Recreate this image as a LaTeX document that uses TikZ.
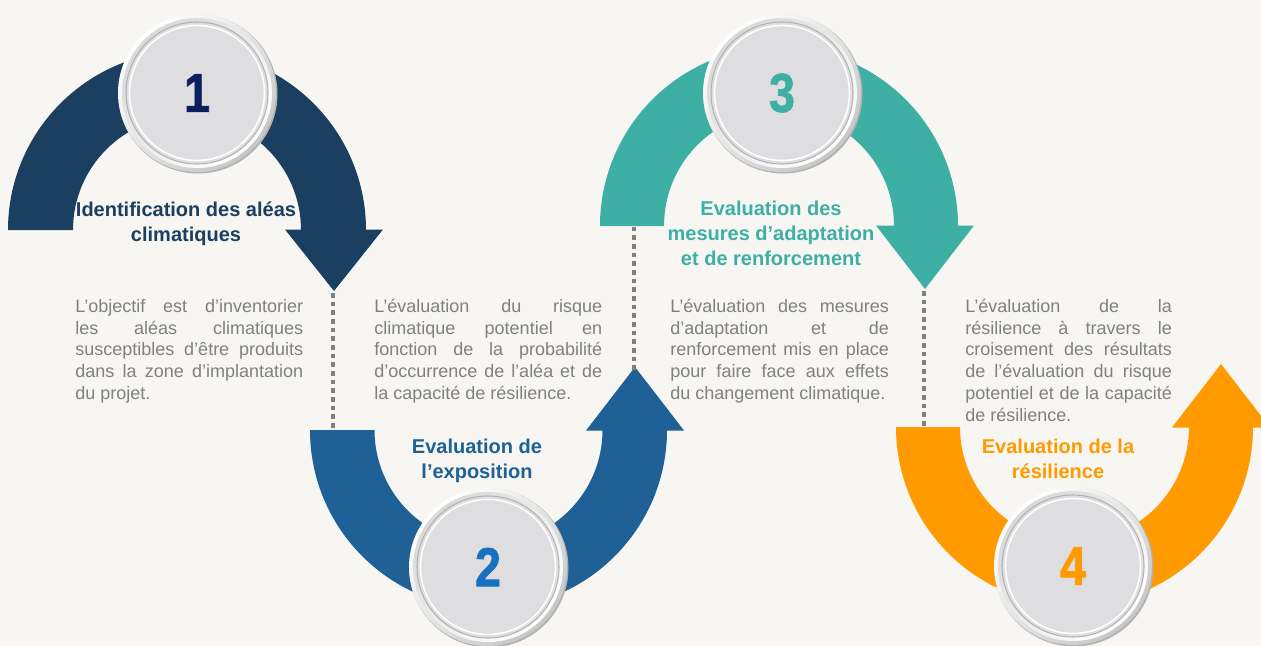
\documentclass[tikz,border=0pt]{standalone}
\usepackage{fontspec}
\setmainfont{Liberation Sans}
\newfontfamily\numfont{Liberation Sans}[UprightFont={* Bold}, FakeBold=1.6]
\usetikzlibrary{positioning,calc}
\definecolor{colbg}{RGB}{247,246,242}
\definecolor{cola}{RGB}{27,63,96}
\definecolor{colb}{RGB}{31,96,150}
\definecolor{colc}{RGB}{61,175,165}
\definecolor{cold}{RGB}{255,154,0}
\definecolor{coln}{RGB}{10,31,94}
\definecolor{colm}{RGB}{26,112,192}
\definecolor{colg}{RGB}{128,128,128}
\definecolor{colcoin}{RGB}{222,221,224}
\tolerance=10000
\hyphenpenalty=10000

\begin{document}
\begin{tikzpicture}[x=0.75pt, y=0.75pt,
    desc/.style={anchor=north west, inner sep=0pt, align=justify, text=colg,
      font=\fontsize{13.5pt}{16.3pt}\selectfont},
    titl/.style={anchor=base, inner sep=0pt, align=center,
      font=\fontsize{15pt}{18.5pt}\selectfont\bfseries},
    dots/.style={colg, line width=3.4pt, dash pattern=on 3.4pt off 3.1pt},
    num/.style={inner sep=0pt, font=\fontsize{41pt}{41pt}\numfont}]
    \useasboundingbox (0,0) rectangle (1261,-646);
    \clip (0,0) rectangle (1261,-646);
    \fill[colbg] (0,0) rectangle (1261,-646);

    \fill[cola] (8,-230) arc[start angle=180, end angle=0, radius=179] -- (301,-230) arc[start angle=0, end angle=180, radius=114] -- cycle;
    \fill[cola] (285,-229.5) -- (383,-229.5) -- (334,-291) -- cycle;
    \fill[colb] (310,-430) arc[start angle=180, end angle=360, radius=178.5] -- (602.5,-430) arc[start angle=360, end angle=180, radius=114] -- cycle;
    \fill[colb] (586,-430.5) -- (684,-430.5) -- (635,-367) -- cycle;
    \fill[colc] (600,-226) arc[start angle=180, end angle=0, radius=179] -- (894,-226) arc[start angle=0, end angle=180, radius=115] -- cycle;
    \fill[colc] (876,-225.5) -- (974,-225.5) -- (925,-289) -- cycle;
    \fill[cold] (896,-427) arc[start angle=180, end angle=360, radius=178.5] -- (1189,-427) arc[start angle=360, end angle=180, radius=114.5] -- cycle;
    \fill[cold] (1172,-427.5) -- (1270,-427.5) -- (1221,-364) -- cycle;

    \coordinate (tip1) at (333,-293);
    \coordinate (foot2) at (333,-430);
    \coordinate (tip2) at (634,-370);
    \coordinate (foot3) at (634,-226);
    \coordinate (tip3) at (924,-291);
    \coordinate (foot4) at (924,-427);
    \draw[dots] (tip1) -- (foot2);
    \draw[dots] (tip2) -- (foot3);
    \draw[dots] (tip3) -- (foot4);

    \foreach \n/\x/\y/\c in {1/197/-93/coln, 2/488/-567/colm, 3/782/-93/colc, 4/1073/-566/cold} {
      \fill[black!30] (\x+1,\y-1) circle (79.5);
      \shade[top color=white, bottom color=black!22, shading angle=45] (\x,\y) circle (79);
      \shade[top color=black!15, bottom color=white, shading angle=45] (\x,\y) circle (75);
      \filldraw[fill=colcoin, draw=black!30, line width=0.8] (\x,\y) circle (71);
      \draw[white, line width=1.2] (\x,\y) circle (67.5);
      \node[num, text=\c] (coin\n) at (\x,\y) {\scalebox{0.85}[1]{\n}};
    }

    \node[titl, text=cola] (titre1) at (186,-241) {Identification des aléas\\climatiques};
    \node[titl, text=colb] (titre2) at (477,-478) {Evaluation de\\l’exposition};
    \node[titl, text=colc] (titre3) at (771,-265) {Evaluation des\\mesures d’adaptation\\et de renforcement};
    \node[titl, text=cold] (titre4) at (1058,-478) {Evaluation de la\\résilience};

    \node[desc, text width=171pt] (texte1) at (75,-299) {L’objectif est d’inventorier\linebreak les aléas climatiques\linebreak susceptibles d’être produits\linebreak dans la zone d’implantation\linebreak du projet.};
    \node[desc, text width=171pt] (texte2) at (374,-299) {L’évaluation du risque\linebreak climatique potentiel en\linebreak fonction de la probabilité\linebreak d’occurrence de l’aléa et de\linebreak la capacité de résilience.};
    \node[desc, text width=164pt] (texte3) at (670,-299) {L’évaluation des mesures\linebreak d’adaptation et de\linebreak renforcement mis en place\linebreak pour faire face aux effets\linebreak du changement climatique.};
    \node[desc, text width=155pt] (texte4) at (965,-299) {L’évaluation de la\linebreak résilience à travers le\linebreak croisement des résultats\linebreak de l’évaluation du risque\linebreak potentiel et de la capacité\linebreak de résilience.};
  \end{tikzpicture}
\end{document}
